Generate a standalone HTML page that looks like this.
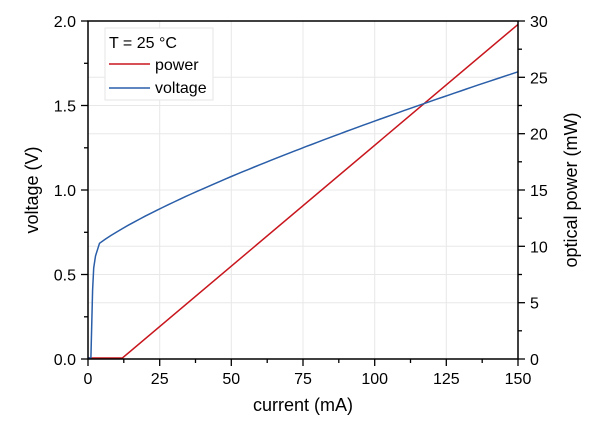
<!DOCTYPE html>
<html><head><meta charset="utf-8"><style>body{margin:0;background:#fff}svg{display:block}</style></head><body>
<svg width="600" height="424" xmlns="http://www.w3.org/2000/svg" font-family="Liberation Sans, Arial, sans-serif">
<g stroke="#e8e8e8" stroke-width="1">
<line x1="159.7" y1="21" x2="159.7" y2="359"/><line x1="231.3" y1="21" x2="231.3" y2="359"/><line x1="303" y1="21" x2="303" y2="359"/><line x1="374.7" y1="21" x2="374.7" y2="359"/><line x1="446.3" y1="21" x2="446.3" y2="359"/>
<line x1="88" y1="274.5" x2="518" y2="274.5"/><line x1="88" y1="190" x2="518" y2="190"/><line x1="88" y1="105.5" x2="518" y2="105.5"/>
<line x1="88" y1="302.7" x2="518" y2="302.7"/><line x1="88" y1="246.3" x2="518" y2="246.3"/><line x1="88" y1="133.7" x2="518" y2="133.7"/><line x1="88" y1="77.3" x2="518" y2="77.3"/>
</g>
<polyline fill="none" stroke="#c8161d" stroke-width="1.5" points="88,358 122.4,358 518,24.4"/>
<polyline id="v" fill="none" stroke="#2a5ea8" stroke-width="1.5" points=""/>
<script>
(function(){var p=["88,358","90.9,358","92.6,290","93.7,268","95.5,256"];
for(var I=4;I<=150;I+=2){var V=0.62+0.022*Math.pow(I,0.777);p.push((88+I*430/150).toFixed(1)+","+(359-169*V).toFixed(1));}
document.getElementById("v").setAttribute("points",p.join(" "));})();
</script>
<g stroke="#000" stroke-width="1.5" fill="none">
<rect x="88" y="21" width="430" height="338"/>
</g>
<g stroke="#000" stroke-width="1.3">
<line x1="88" y1="359" x2="88" y2="366"/><line x1="159.7" y1="359" x2="159.7" y2="366"/><line x1="231.3" y1="359" x2="231.3" y2="366"/><line x1="303" y1="359" x2="303" y2="366"/><line x1="374.7" y1="359" x2="374.7" y2="366"/><line x1="446.3" y1="359" x2="446.3" y2="366"/><line x1="518" y1="359" x2="518" y2="366"/>
<line x1="123.8" y1="359" x2="123.8" y2="363"/><line x1="195.5" y1="359" x2="195.5" y2="363"/><line x1="267.2" y1="359" x2="267.2" y2="363"/><line x1="338.8" y1="359" x2="338.8" y2="363"/><line x1="410.5" y1="359" x2="410.5" y2="363"/><line x1="482.2" y1="359" x2="482.2" y2="363"/>
<line x1="81" y1="359" x2="88" y2="359"/><line x1="81" y1="274.5" x2="88" y2="274.5"/><line x1="81" y1="190" x2="88" y2="190"/><line x1="81" y1="105.5" x2="88" y2="105.5"/><line x1="81" y1="21" x2="88" y2="21"/>
<line x1="84" y1="316.8" x2="88" y2="316.8"/><line x1="84" y1="232.3" x2="88" y2="232.3"/><line x1="84" y1="147.8" x2="88" y2="147.8"/><line x1="84" y1="63.3" x2="88" y2="63.3"/>
<line x1="518" y1="359" x2="525" y2="359"/><line x1="518" y1="302.7" x2="525" y2="302.7"/><line x1="518" y1="246.3" x2="525" y2="246.3"/><line x1="518" y1="190" x2="525" y2="190"/><line x1="518" y1="133.7" x2="525" y2="133.7"/><line x1="518" y1="77.3" x2="525" y2="77.3"/><line x1="518" y1="21" x2="525" y2="21"/>
<line x1="518" y1="330.8" x2="522" y2="330.8"/><line x1="518" y1="274.5" x2="522" y2="274.5"/><line x1="518" y1="218.2" x2="522" y2="218.2"/><line x1="518" y1="161.8" x2="522" y2="161.8"/><line x1="518" y1="105.5" x2="522" y2="105.5"/><line x1="518" y1="49.2" x2="522" y2="49.2"/>
</g>
<g font-size="16" fill="#000" text-anchor="middle">
<text x="88" y="384">0</text><text x="159.7" y="384">25</text><text x="231.3" y="384">50</text><text x="303" y="384">75</text><text x="374.7" y="384">100</text><text x="446.3" y="384">125</text><text x="518" y="384">150</text>
</g>
<g font-size="16" fill="#000" text-anchor="end">
<text x="76" y="365">0.0</text><text x="76" y="280.5">0.5</text><text x="76" y="196">1.0</text><text x="76" y="111.5">1.5</text><text x="76" y="27">2.0</text>
</g>
<g font-size="16" fill="#000" text-anchor="start">
<text x="530" y="365">0</text><text x="530" y="308.7">5</text><text x="530" y="252.3">10</text><text x="530" y="196">15</text><text x="530" y="139.7">20</text><text x="530" y="83.3">25</text><text x="530" y="27">30</text>
</g>
<text x="303" y="411" font-size="18" text-anchor="middle">current (mA)</text>
<text transform="translate(38,190) rotate(-90)" font-size="18" text-anchor="middle">voltage (V)</text>
<text transform="translate(577,190) rotate(-90)" font-size="18" text-anchor="middle">optical power (mW)</text>
<rect x="105" y="28" width="108" height="72" fill="#fff" stroke="#e6e6e6"/>
<text x="109" y="48" font-size="16">T = 25 °C</text>
<line x1="109" y1="64" x2="150" y2="64" stroke="#c8161d" stroke-width="1.5"/>
<text x="155" y="70" font-size="16">power</text>
<line x1="109" y1="88" x2="150" y2="88" stroke="#2a5ea8" stroke-width="1.5"/>
<text x="155" y="93" font-size="16">voltage</text>
</svg>
</body></html>
